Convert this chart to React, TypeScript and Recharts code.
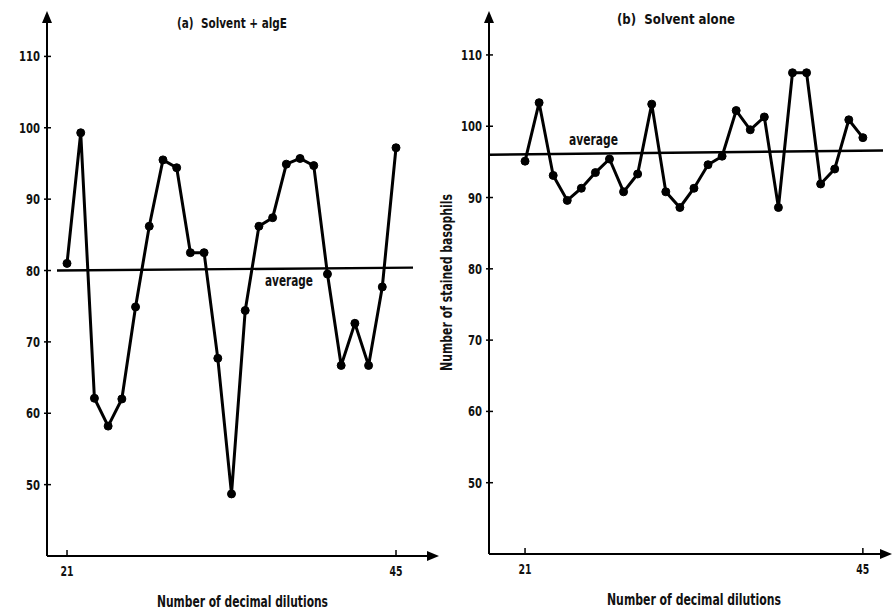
import React from 'react';
import { LineChart, Line, XAxis, YAxis, ReferenceLine, ReferenceDot } from 'recharts';

const dilutions = [21, 22, 23, 24, 25, 26, 27, 28, 29, 30, 31, 32, 33, 34, 35, 36, 37, 38, 39, 40, 41, 42, 43, 44, 45];
const algE = [81.0, 99.3, 62.1, 58.2, 62.0, 74.9, 86.2, 95.5, 94.4, 82.5, 82.5, 67.7, 48.7, 74.4, 86.2, 87.4, 94.9, 95.7, 94.7, 79.5, 66.7, 72.6, 66.7, 77.7, 97.2];
const solventAlone = [95.1, 103.3, 93.1, 89.6, 91.3, 93.5, 95.4, 90.8, 93.3, 103.1, 90.8, 88.6, 91.3, 94.6, 95.8, 102.2, 99.5, 101.3, 88.6, 107.5, 107.5, 91.9, 94.0, 100.9, 98.4];
const averageA = [{ x: 20.27, y: 80.0 }, { x: 46.24, y: 80.4 }];
const averageB = [{ x: 18.44, y: 96.0 }, { x: 46.43, y: 96.6 }];
const yTicks = [50, 60, 70, 80, 90, 100, 110];
const xTicks = [21, 45];

const FONT = "'Liberation Sans Narrow', 'DejaVu Sans Condensed', 'Arial Narrow', sans-serif";

const dataA = dilutions.map((x, i) => ({ x, v: algE[i] }));
const dataB = dilutions.map((x, i) => ({ x, v: solventAlone[i] }));

const YTick = (props: any) => {
  const { x, y, payload } = props;
  const w = String(payload.value).length === 3 ? 21 : 14;
  return (
    <g>
      <line x1={x - 3} x2={x + 4} y1={y} y2={y} stroke="#000" strokeWidth={1.5} />
      <text x={x - 7} y={y} textAnchor="end" dominantBaseline="central" fontSize={14} fontWeight={700} fontFamily={FONT} fill="#111" textLength={w} lengthAdjust="spacingAndGlyphs">
        {payload.value}
      </text>
    </g>
  );
};

const XTick = (props: any) => {
  const { x, y, payload } = props;
  return (
    <g>
      <line x1={x} x2={x} y1={y} y2={y - 6} stroke="#000" strokeWidth={1.5} />
      <text x={x} y={y + 15} textAnchor="middle" dominantBaseline="central" fontSize={14} fontWeight={700} fontFamily={FONT} fill="#111" textLength={13} lengthAdjust="spacingAndGlyphs">
        {payload.value}
      </text>
    </g>
  );
};

const ArrowRight = (p: any) => (
  <path d={`M${p.cx - 3},${p.cy - 5} L${p.cx + 9},${p.cy} L${p.cx - 3},${p.cy + 5} Z`} fill="#000" />
);
const ArrowUp = (p: any) => (
  <path d={`M${p.cx - 5},${p.cy + 3} L${p.cx},${p.cy - 9} L${p.cx + 5},${p.cy + 3} Z`} fill="#000" />
);

interface PanelProps {
  data: { x: number; v: number }[];
  avg: { x: number; y: number }[];
  xDomain: [number, number];
  yDomain: [number, number];
  width: number;
  margin: { top: number; right: number; bottom: number; left: number };
}

const Panel = ({ data, avg, xDomain, yDomain, width, margin }: PanelProps) => (
  <LineChart width={width} height={610} data={data} margin={margin}>
    <XAxis
      type="number"
      dataKey="x"
      domain={xDomain}
      allowDataOverflow
      ticks={xTicks}
      interval={0}
      tickSize={0}
      tickMargin={0}
      tick={<XTick />}
      height={20}
      axisLine={{ stroke: '#000', strokeWidth: 2 }}
      tickLine={false}
    />
    <YAxis
      type="number"
      domain={yDomain}
      allowDataOverflow
      ticks={yTicks}
      interval={0}
      tickSize={0}
      tickMargin={0}
      tick={<YTick />}
      width={40}
      axisLine={{ stroke: '#000', strokeWidth: 2 }}
      tickLine={false}
    />
    <ReferenceLine segment={avg} stroke="#000" strokeWidth={2.4} ifOverflow="visible" />
    <Line
      type="linear"
      dataKey="v"
      stroke="#000"
      strokeWidth={3}
      dot={{ r: 4, fill: '#000', stroke: '#000', strokeWidth: 1 }}
      isAnimationActive={false}
    />
    <ReferenceDot x={xDomain[1]} y={yDomain[0]} ifOverflow="visible" shape={ArrowRight} />
    <ReferenceDot x={xDomain[0]} y={yDomain[1]} ifOverflow="visible" shape={ArrowUp} />
  </LineChart>
);

export default function App() {
  const t = { fontFamily: FONT, fontWeight: 700, fill: '#111', lengthAdjust: 'spacingAndGlyphs' } as any;
  return (
    <div style={{ position: 'absolute', left: 0, top: 0, width: 893, height: 610, background: '#fff', overflow: 'hidden' }}>
      <div style={{ position: 'absolute', left: 0, top: 0 }}>
        <Panel
          data={dataA}
          avg={averageA}
          xDomain={[19.54, 47.48]}
          yDomain={[40, 115.1]}
          width={440}
          margin={{ top: 20, right: 10, bottom: 34, left: 7 }}
        />
      </div>
      <div style={{ position: 'absolute', left: 440, top: 0 }}>
        <Panel
          data={dataB}
          avg={averageB}
          xDomain={[18.44, 46.43]}
          yDomain={[40, 114.9]}
          width={453}
          margin={{ top: 20, right: 10, bottom: 36, left: 9 }}
        />
      </div>
      <svg width={893} height={610} style={{ position: 'absolute', left: 0, top: 0, pointerEvents: 'none' }}>
        <text {...t} x={177} y={28} fontSize={14} textLength={110} xmlSpace="preserve">(a)  Solvent + algE</text>
        <text {...t} x={617} y={24} fontSize={14} textLength={118} xmlSpace="preserve">(b)  Solvent alone</text>
        <text {...t} x={265} y={286} fontSize={15} textLength={48}>average</text>
        <text {...t} x={569} y={145} fontSize={15} textLength={49}>average</text>
        <text {...t} x={157} y={607} fontSize={15} textLength={171}>Number of decimal dilutions</text>
        <text {...t} x={607} y={605} fontSize={15} textLength={174}>Number of decimal dilutions</text>
        <text {...t} x={0} y={0} fontSize={15} textLength={177} dominantBaseline="central" transform="translate(447 371) rotate(-90)">
          Number of stained basophils
        </text>
      </svg>
    </div>
  );
}
